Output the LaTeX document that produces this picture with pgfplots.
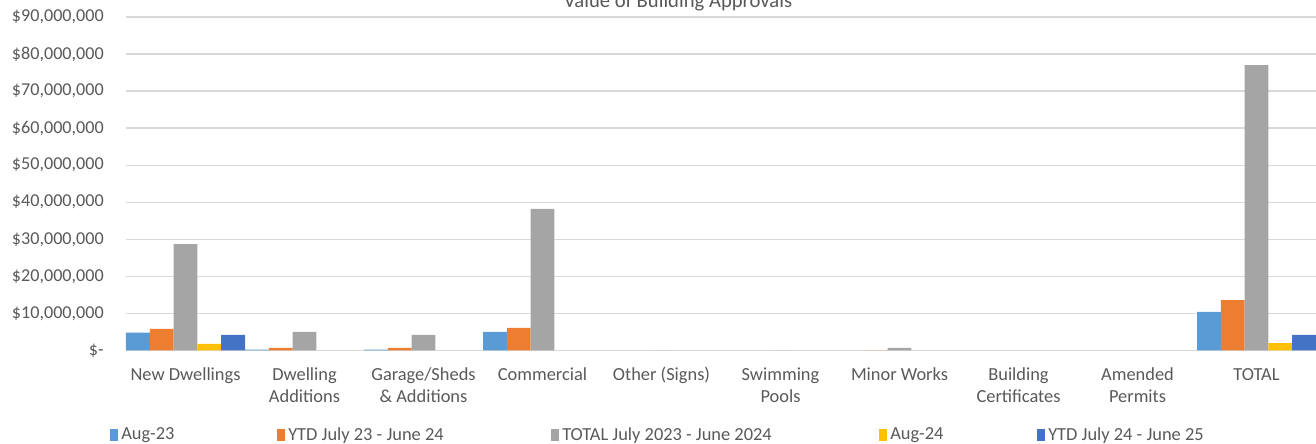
\documentclass[border=0pt]{standalone}
\usepackage{pgfplots}
\pgfplotsset{compat=1.18}
\usepackage{fontspec}
\setmainfont{Carlito}
\definecolor{txt}{RGB}{89,89,89}
\definecolor{grd}{RGB}{217,217,217}
\definecolor{cA}{RGB}{91,155,213}
\definecolor{cB}{RGB}{237,125,49}
\definecolor{cC}{RGB}{165,165,165}
\definecolor{cD}{RGB}{255,192,0}
\definecolor{cE}{RGB}{68,114,196}
\pgfplotsset{sqlegend/.style={legend image code/.code={\fill[##1] (0pt,-4.5pt) rectangle (6pt,4.5pt);}}}
\newcommand{\lab}{\fontsize{13.8}{16.5}\selectfont}
\newcommand{\ylab}{\fontsize{13.6}{15}\selectfont}
\begin{document}
\begin{tikzpicture}
\begin{axis}[
  scale only axis, width=892.5pt, height=250.1pt,
  xmin=-0.5, xmax=9.5, ymin=0, ymax=90,
  enlargelimits=false, clip=false,
  ybar=0pt, bar width=0.2,
  axis x line*=bottom, axis y line*=left,
  x axis line style={grd, line width=1.3pt, -},
  y axis line style={draw=none},
  major tick length=0pt, tick style={draw=none},
  xtick={0,...,9},
  xticklabels={{\strut New Dwellings},{\strut Dwelling\\Additions},{\strut Garage/Sheds\\\& Additions},{\strut Commercial},{\strut Other (Signs)},{\strut Swimming\\Pools},{\strut Minor Works},{\strut Building\\Certificates},{\strut Amended\\Permits},{\strut TOTAL}},
  xticklabel style={font=\lab, text=txt, align=center, anchor=north, inner sep=0pt, yshift=-11.1pt},
  ytick={0,10,...,90},
  yticklabels={\$-,{\$10,000,000},{\$20,000,000},{\$30,000,000},{\$40,000,000},{\$50,000,000},{\$60,000,000},{\$70,000,000},{\$80,000,000},{\$90,000,000}},
  yticklabel style={font=\ylab, text=txt, anchor=east, inner sep=0pt, xshift=-16.5pt},
  ymajorgrids, grid style={grd, line width=1pt},
  legend columns=5,
  legend style={at={(0,0)}, anchor=west, xshift=-15pt, yshift=-63.35pt,
    draw=none, fill=none, font=\lab, text=txt, nodes={inner sep=0pt},
    /tikz/every even column/.style={column sep=0pt}},
]
\addplot[fill=cA, draw=none, bar shift=-0.4, sqlegend] coordinates {(0,4.8) (1,0.2) (2,0.2) (3,5.0) (9,10.4)};
\addlegendentry{\makebox[119.25pt][l]{\hspace{2.25pt}Aug-23}}
\addplot[fill=cB, draw=none, bar shift=-0.2, sqlegend] coordinates {(0,5.8) (1,0.7) (2,0.7) (3,6.1) (6,0.05) (9,13.6)};
\addlegendentry{\makebox[199.5pt][l]{\hspace{2.25pt}YTD July 23 - June 24}}
\addplot[fill=cC, draw=none, bar shift=0, sqlegend] coordinates {(0,28.7) (1,5.0) (2,4.2) (3,38.2) (4,0.05) (5,0.05) (6,0.7) (9,77.0)};
\addlegendentry{\makebox[240pt][l]{\hspace{2.25pt}TOTAL July 2023 - June 2024}}
\addplot[fill=cD, draw=none, bar shift=0.2, sqlegend] coordinates {(0,1.8) (9,2.0)};
\addlegendentry{\makebox[112.5pt][l]{\hspace{2.25pt}Aug-24}}
\addplot[fill=cE, draw=none, bar shift=0.4, sqlegend] coordinates {(0,4.2) (9,4.2)};
\addlegendentry{\makebox[100pt][l]{\hspace{2.25pt}YTD July 24 - June 25}}
\coordinate (bl) at (rel axis cs:0,0);
\coordinate (tr) at (rel axis cs:1,1);
\node[anchor=base, font=\fontsize{15.5}{18}\selectfont, text=txt, inner sep=0pt, yshift=7.5pt] at (rel axis cs:0.4639,1) {Value of Building Approvals};
\end{axis}
\pgfresetboundingbox
\path[use as bounding box] ([xshift=-94.5pt,yshift=-70.1pt]bl) rectangle ([yshift=12.75pt]tr);
\end{tikzpicture}
\end{document}
